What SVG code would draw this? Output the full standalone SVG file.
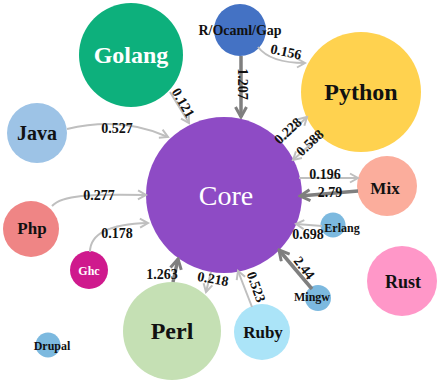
<svg xmlns="http://www.w3.org/2000/svg" width="437" height="382" viewBox="0 0 437 382">
  <style>
    .node text { font-family: "Liberation Serif", "Times New Roman", serif; font-weight: bold; text-anchor: middle; dominant-baseline: central; fill: #111; }
    .node text.light { fill: #fff; }
    .edge { fill: none; }
    .thin { stroke: #bfbfbf; stroke-width: 2; marker-end: url(#head-thin); }
    .thick { stroke: #7f7f7f; stroke-width: 3.5; marker-end: url(#head-thick); }
    .lbl { font-family: "Liberation Serif", "Times New Roman", serif; font-weight: bold; font-size: 14px; fill: #111; text-anchor: middle; dominant-baseline: central; }
  </style>
  <defs>
    <marker id="head-thin" viewBox="0 0 12 12" refX="10" refY="6" markerWidth="12" markerHeight="12" markerUnits="userSpaceOnUse" orient="auto">
      <path d="M2,1.5 L10,6 L2,10.5" fill="none" stroke="#bfbfbf" stroke-width="2"/>
    </marker>
    <marker id="head-thick" viewBox="0 0 14 14" refX="12" refY="7" markerWidth="14" markerHeight="14" markerUnits="userSpaceOnUse" orient="auto">
      <path d="M2,1.5 L12,7 L2,12.5" fill="none" stroke="#7f7f7f" stroke-width="3"/>
    </marker>
  </defs>

  <rect width="437" height="382" fill="#fff"/>

  <g id="node-golang" class="node"><circle cx="131" cy="55" r="52" fill="#0db07c"/><text x="131" y="55" class="light" font-size="24">Golang</text></g>
  <g id="node-r" class="node"><circle cx="240" cy="30" r="26" fill="#4472c4"/><text x="240" y="30" font-size="14">R/Ocaml/Gap</text></g>
  <g id="node-python" class="node"><circle cx="361" cy="92" r="60" fill="#ffd24f"/><text x="361" y="92" font-size="24">Python</text></g>
  <g id="node-java" class="node"><circle cx="37" cy="133" r="30" fill="#9dc3e6"/><text x="37" y="133" font-size="20">Java</text></g>
  <g id="node-core" class="node"><circle cx="224" cy="195" r="78" fill="#8e4bc5"/><text x="226" y="195" class="light" font-size="28" font-weight="normal" style="font-weight:normal">Core</text></g>
  <g id="node-mix" class="node"><circle cx="387" cy="186" r="30" fill="#fbad9c"/><text x="385" y="188" font-size="17">Mix</text></g>
  <g id="node-php" class="node"><circle cx="31" cy="229" r="28" fill="#ef8585"/><text x="32" y="228" font-size="17">Php</text></g>
  <g id="node-ghc" class="node"><circle cx="89" cy="270" r="19" fill="#cf1a8d"/><text x="89" y="271" class="light" font-size="12">Ghc</text></g>
  <g id="node-erlang" class="node"><circle cx="333" cy="225" r="12.5" fill="#7cb9df"/><text x="342" y="228" font-size="12">Erlang</text></g>
  <g id="node-rust" class="node"><circle cx="402" cy="281" r="35" fill="#ff97c8"/><text x="403" y="282" font-size="18">Rust</text></g>
  <g id="node-mingw" class="node"><circle cx="318" cy="298" r="13" fill="#7cb9df"/><text x="312" y="297" font-size="12">Mingw</text></g>
  <g id="node-perl" class="node"><circle cx="172" cy="331" r="49" fill="#c5e0b4"/><text x="172" y="331" font-size="24">Perl</text></g>
  <g id="node-ruby" class="node"><circle cx="262" cy="332" r="28" fill="#abe4f8"/><text x="263" y="332" font-size="17">Ruby</text></g>
  <g id="node-drupal" class="node"><circle cx="48" cy="345" r="12.5" fill="#7cb9df"/><text x="52" y="346" font-size="12">Drupal</text></g>

  <g id="connectors">
    <path class="edge thick" d="M241,56 L241,117"/>
    <path class="edge thin" d="M258,47 C268,60 288,63 305,63"/>
    <path class="edge thin" d="M170,92 L189,123"/>
    <path class="edge thin" d="M67,129 Q122,116 168,137"/>
    <path class="edge thin" d="M52,206 C62,195 90,194 146,195"/>
    <path class="edge thin" d="M90,252 C90,234 110,224 148,223"/>
    <path class="edge thin" d="M281,142 L307,117"/>
    <path class="edge thin" d="M320,136 L293,160"/>
    <path class="edge thin" d="M299,178 L358,178"/>
    <path class="edge thick" d="M358,191 L300,196"/>
    <path class="edge thin" d="M322,226 L296,224"/>
    <path class="edge thick" d="M312,289 L279,250"/>
    <path class="edge thin" d="M252,307 L238,271"/>
    <path class="edge thin" d="M211,272 L206,292"/>
    <path class="edge thick" d="M173,282 L178,259"/>

    <text class="lbl" transform="translate(242,84) rotate(90)" font-size="16">1.207</text>
    <text class="lbl" transform="translate(286,52) rotate(12)">0.156</text>
    <text class="lbl" transform="translate(183,103) rotate(60)">0.121</text>
    <text class="lbl" x="117" y="128">0.527</text>
    <text class="lbl" x="99" y="195">0.277</text>
    <text class="lbl" x="117" y="233">0.178</text>
    <text class="lbl" transform="translate(288,131) rotate(-43)">0.228</text>
    <text class="lbl" transform="translate(310,143) rotate(-43)">0.588</text>
    <text class="lbl" x="325" y="174">0.196</text>
    <text class="lbl" x="330" y="192">2.79</text>
    <text class="lbl" x="308" y="234">0.698</text>
    <text class="lbl" transform="translate(304,268) rotate(52)">2.44</text>
    <text class="lbl" transform="translate(256,287) rotate(70)">0.523</text>
    <text class="lbl" transform="translate(213,279) rotate(10)">0.218</text>
    <text class="lbl" x="162" y="274">1.263</text>
  </g>
</svg>
